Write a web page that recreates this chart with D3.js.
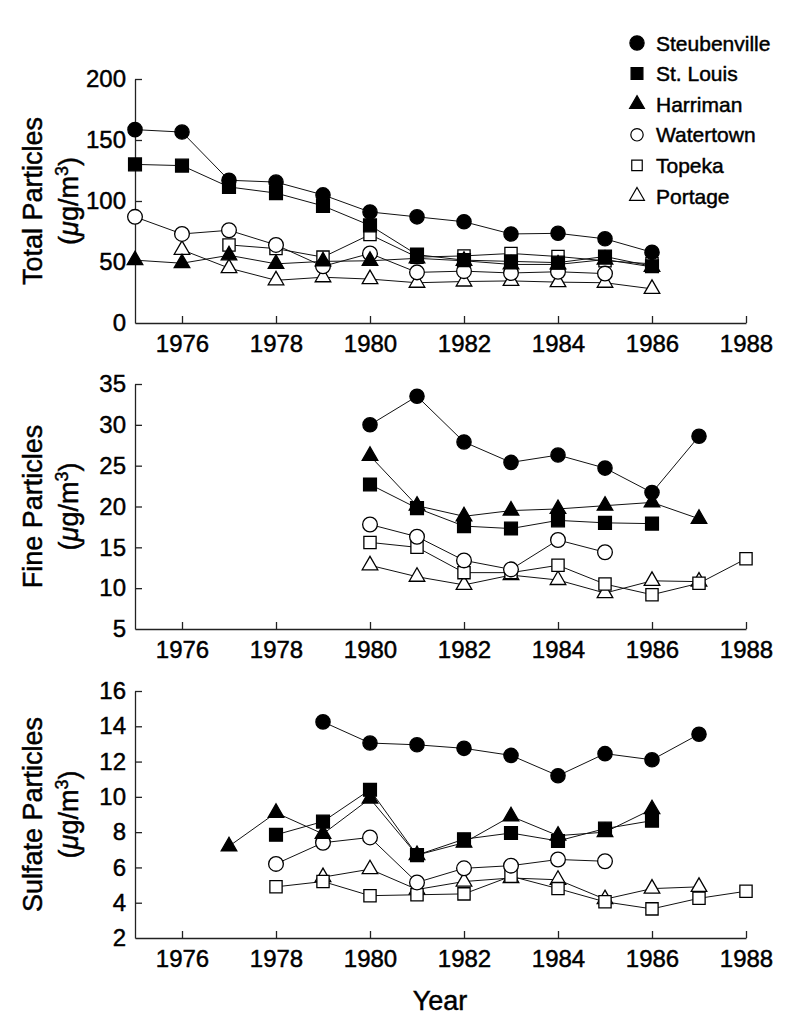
<!DOCTYPE html>
<html><head><meta charset="utf-8">
<script src="https://cdn.jsdelivr.net/npm/d3@7"></script>
<style>
html,body{margin:0;padding:0;background:#fff;}
svg{display:block;}
text{font-family:"Liberation Sans",Arial,Helvetica,sans-serif;fill:#000;}
</style></head>
<body>
<svg id="chart" width="808" height="1034"></svg>
<script>
// ---------- DATA ----------
const cities = ["Steubenville","St. Louis","Harriman","Watertown","Topeka","Portage"];
const xTicks = [1976,1978,1980,1982,1984,1986,1988];

// Total particles (µg/m3), years 1975..1986
const totalYears = [1975,1976,1977,1978,1979,1980,1981,1982,1983,1984,1985,1986];
const totalSteubenville = [158.5,156.5,117,115.5,105,91,87,83,73,73.5,69,58];
const totalStLouis      = [130,129,111.5,106.5,96,80,56,51.5,50.5,49.5,54.5,46.5];
const totalHarriman     = [51.5,49,55.5,48.5,50.5,51,53,51,48,48,52,46];
const totalWatertown    = [87,73,76,64,46.5,57,41.5,42.5,41,42,40.5,null];
const totalTopeka       = [null,null,64,61,54,72.5,54,55,57,54.5,51,48.5];
const totalPortage      = [null,60,45,35,37.5,36,33,34,34.5,33.5,33,28];

// Fine particles (µg/m3), years 1980..1988
const fineYears = [1980,1981,1982,1983,1984,1985,1986,1987,1988];
const fineSteubenville = [30,33.5,27.9,25.4,26.3,24.7,21.7,28.6,null];
const fineStLouis      = [22.7,19.8,17.6,17.3,18.3,18,17.9,null,null];
const fineHarriman     = [26.2,20.1,18.8,19.5,19.7,20.1,20.5,18.5,null];
const fineWatertown    = [17.8,16.3,13.4,12.3,15.9,14.4,null,null,null];
const fineTopeka       = [15.6,15,11.9,11.9,12.8,10.5,9.2,10.6,13.6];
const finePortage      = [12.8,11.4,10.4,11.6,11,9.4,10.9,10.8,null];

// Sulfate particles (µg/m3), years 1977..1988
const sulfYears = [1977,1978,1979,1980,1981,1982,1983,1984,1985,1986,1987,1988];
const sulfSteubenville = [null,null,14.25,13.05,12.95,12.75,12.35,11.2,12.45,12.1,13.55,null];
const sulfStLouis      = [null,7.85,8.6,10.4,6.7,7.6,7.95,7.5,8.2,8.65,null,null];
const sulfHarriman     = [7.2,9.1,7.9,9.9,6.7,7.4,8.9,7.8,8.0,9.3,null,null];
const sulfWatertown    = [null,6.2,7.4,7.7,5.15,5.95,6.1,6.45,6.35,null,null,null];
const sulfTopeka       = [null,4.9,5.2,4.4,4.45,4.5,5.5,4.8,4.05,3.65,4.25,4.65];
const sulfPortage      = [null,null,5.45,5.9,4.75,5.2,5.4,5.3,4.2,4.8,4.9,null];

const totalTicks = [0,50,100,150,200];
const fineTicks = [5,10,15,20,25,30,35];
const sulfTicks = [2,4,6,8,10,12,14,16];

// ---------- STYLE ----------
const markerSpec = {
  "Steubenville": {type:d3.symbolCircle,   size:160, fill:"#000"},
  "St. Louis":    {type:d3.symbolSquare,   size:165, fill:"#000"},
  "Harriman":     {type:d3.symbolTriangle, size:105, fill:"#000"},
  "Watertown":    {type:d3.symbolCircle,   size:170, fill:"#fff"},
  "Topeka":       {type:d3.symbolSquare,   size:150, fill:"#fff"},
  "Portage":      {type:d3.symbolTriangle, size:105, fill:"#fff"}
};

const svg = d3.select("#chart");
const x = d3.scaleLinear().domain([1975,1988]).range([135,746]);

function heavy(sel){ return sel.attr("stroke","#000").attr("stroke-width",0.45); }

function panel(years, series, yDomain, yRange, ticks, title){
  const y = d3.scaleLinear().domain(yDomain).range(yRange);
  const g = svg.append("g");
  const xa = g.append("g").attr("transform",`translate(0,${yRange[0]})`)
    .call(d3.axisBottom(x).tickValues(xTicks).tickFormat(d3.format("d"))
      .tickSizeInner(-7).tickSizeOuter(0).tickPadding(12));
  const ya = g.append("g").attr("transform",`translate(${x.range()[0]},0)`)
    .call(d3.axisLeft(y).tickValues(ticks).tickFormat(d3.format("d"))
      .tickSizeInner(-7).tickSizeOuter(0).tickPadding(9));
  [xa,ya].forEach(a=>{
    a.attr("font-family",null).attr("font-size",null);
    a.selectAll("path,line").attr("stroke","#222").attr("stroke-width",1.3);
    heavy(a.selectAll("text").style("font-size","24px").attr("fill","#000"));
  });
  ya.selectAll(".tick").filter(d=>d===yDomain[0]).select("line").remove();
  const cy = (yRange[0]+yRange[1])/2;
  heavy(g.append("text").attr("transform",`translate(42,${cy}) rotate(-90)`)
    .attr("text-anchor","middle").style("font-size","27px").text(title));
  heavy(g.append("text").attr("transform",`translate(78,${cy}) rotate(-90)`)
    .attr("text-anchor","middle").style("font-size","27px"))
    .html('(<tspan font-style="italic">μ</tspan>g/m<tspan dy="-10" style="font-size:18px">3</tspan><tspan dy="10">)</tspan>');
  const line = d3.line().defined(d=>d.v!=null).x(d=>x(d.yr)).y(d=>y(d.v));
  const data = series.map((vals,i)=>({name:cities[i], pts:years.map((yr,j)=>({yr, v:vals[j]}))}));
  data.slice().reverse().forEach(s=>{
    g.append("path").datum(s.pts).attr("d",line).attr("fill","none")
      .attr("stroke","#111").attr("stroke-width",1);
  });
  data.slice().reverse().forEach(s=>{
    const m = markerSpec[s.name];
    g.selectAll(null).data(s.pts.filter(d=>d.v!=null)).enter().append("path")
      .attr("d",d3.symbol().type(m.type).size(m.size))
      .attr("transform",d=>`translate(${x(d.yr)},${y(d.v)})`)
      .attr("fill",m.fill).attr("stroke","#000").attr("stroke-width",1.3);
  });
}

panel(totalYears,[totalSteubenville,totalStLouis,totalHarriman,totalWatertown,totalTopeka,totalPortage],
  [0,200],[323,79],totalTicks,"Total Particles");
panel(fineYears,[fineSteubenville,fineStLouis,fineHarriman,fineWatertown,fineTopeka,finePortage],
  [5,35],[629,384],fineTicks,"Fine Particles");
panel(sulfYears,[sulfSteubenville,sulfStLouis,sulfHarriman,sulfWatertown,sulfTopeka,sulfPortage],
  [2,16],[938,691],sulfTicks,"Sulfate Particles");

heavy(svg.append("text").attr("x",440).attr("y",1010).attr("text-anchor","middle")
  .style("font-size","27px").text("Year"));

// legend
const legendSizes = {"Steubenville":160,"St. Louis":140,"Harriman":95,"Watertown":120,"Topeka":110,"Portage":95};
const lg = svg.append("g");
cities.forEach((c,i)=>{
  const yy = 43 + i*30.6;
  const m = markerSpec[c];
  lg.append("path").attr("d",d3.symbol().type(m.type).size(legendSizes[c]))
    .attr("transform",`translate(637,${yy})`).attr("fill",m.fill)
    .attr("stroke","#000").attr("stroke-width",1.2);
  heavy(lg.append("text").attr("x",656).attr("y",yy).attr("dy","0.36em")
    .style("font-size","21px").text(c));
});
</script>
</body></html>
